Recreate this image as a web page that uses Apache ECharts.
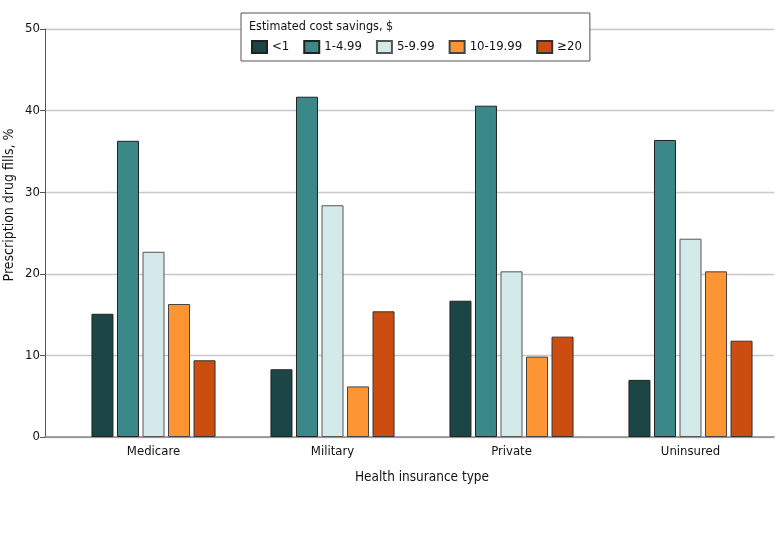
<!DOCTYPE html>
<html>
<head>
<meta charset="utf-8">
<script src="https://cdn.jsdelivr.net/npm/echarts@6/dist/echarts.min.js"></script>
<style>html,body{margin:0;padding:0;background:#fff}#c{width:780px;height:553px}</style>
</head>
<body>
<div id="c"></div>
<script>
const categories = ['Medicare', 'Military', 'Private', 'Uninsured'];
const seriesNames = ['<1', '1-4.99', '5-9.99', '10-19.99', '≥20'];
const savingsLt1 = [15.1, 8.3, 16.7, 7.0];
const savings1to5 = [36.3, 41.7, 40.6, 36.4];
const savings5to10 = [22.7, 28.4, 20.3, 24.3];
const savings10to20 = [16.3, 6.2, 9.85, 20.3];
const savingsGe20 = [9.4, 15.4, 12.3, 11.8];
const yMin = 0, yMax = 50, yStep = 10;
const legendTitle = 'Estimated cost savings, $';
const xTitle = 'Health insurance type';
const yTitle = 'Prescription drug fills, %';

const FONT = '"DejaVu Sans Condensed", "DejaVu Sans", sans-serif';
const TXT = '#111';
const colors = ['#1b4645', '#3a8887', '#d4e9e9', '#fd9535', '#cb4e10'];
const borders = ['#222', '#222', '#555', '#444', '#333'];
const allData = [savingsLt1, savings1to5, savings5to10, savings10to20, savingsGe20];

const chart = echarts.init(document.getElementById('c'), null, {renderer: 'canvas'});
chart.setOption({
  animation: false,
  textStyle: {fontFamily: FONT},
  grid: [
    {left: 45, right: 6, top: 29, height: 408},
    {left: 64, width: 718, top: 29, height: 408}
  ],
  xAxis: [
    {type: 'category', gridIndex: 0, data: categories,
     axisLine: {show: true, lineStyle: {color: '#888', width: 1.5}},
     axisTick: {show: false}, axisLabel: {show: false}, splitLine: {show: false}},
    {type: 'category', gridIndex: 1, data: categories,
     axisLine: {show: false}, axisTick: {show: false},
     axisLabel: {color: TXT, fontSize: 13, fontFamily: FONT, margin: 8},
     name: xTitle, nameLocation: 'middle', nameGap: 33,
     nameTextStyle: {color: TXT, fontSize: 13.5, fontFamily: FONT}}
  ],
  yAxis: [
    {type: 'value', gridIndex: 0, min: yMin, max: yMax, interval: yStep,
     axisLine: {show: true, lineStyle: {color: '#555', width: 1}},
     axisTick: {show: true, length: 5, lineStyle: {color: '#555'}},
     axisLabel: {color: TXT, fontSize: 13, fontFamily: FONT, margin: 5},
     splitLine: {show: true, lineStyle: {color: '#c8c8c8', width: 1.3}}},
    {type: 'value', gridIndex: 1, min: yMin, max: yMax, interval: yStep, show: false,
     splitLine: {show: false}}
  ],
  legend: {
    left: 241, top: 13,
    data: seriesNames,
    backgroundColor: '#fff', borderColor: '#555', borderWidth: 1, borderRadius: 0,
    padding: [27, 8, 7, 10],
    itemWidth: 15, itemHeight: 12, itemGap: 14,
    textStyle: {color: TXT, fontSize: 13, fontFamily: FONT},
    icon: 'rect', z: 10
  },
  graphic: [
    {type: 'text', left: 249, top: 20, z: 100,
     style: {text: legendTitle, fill: TXT, font: '12.5px ' + FONT}},
    {type: 'text', x: 9, y: 205, rotation: Math.PI / 2, z: 100,
     style: {text: yTitle, fill: TXT, font: '14px ' + FONT, align: 'center', verticalAlign: 'middle'}}
  ],
  series: seriesNames.map((n, i) => ({
    name: n, type: 'bar', xAxisIndex: 1, yAxisIndex: 1,
    data: allData[i], barWidth: 22, barGap: '16%',
    itemStyle: {color: colors[i], borderColor: borders[i], borderWidth: 1}
  }))
});
</script>
</body>
</html>
